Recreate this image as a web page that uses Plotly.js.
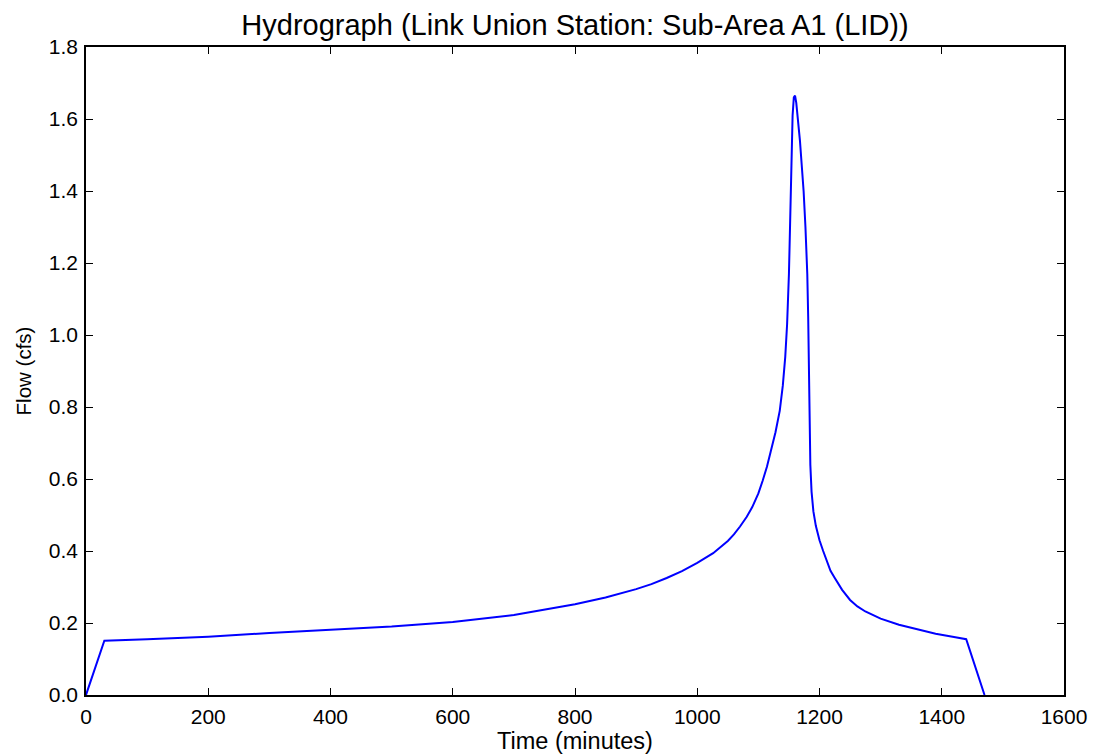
<!DOCTYPE html>
<html>
<head>
<meta charset="utf-8">
<script src="https://cdn.plot.ly/plotly-3.0.1.min.js"></script>
<style>
html,body{margin:0;padding:0;background:#fff;}
#chart{width:1094px;height:756px;}
</style>
</head>
<body>
<div id="chart"></div>
<script>
const timeMinutes = [0, 30, 100, 200, 300, 400, 500, 600, 700, 800, 850, 900, 925, 950, 975, 1000, 1026, 1050, 1060, 1070, 1081, 1090, 1100, 1107, 1114, 1120, 1128, 1135, 1140, 1144, 1147, 1150, 1152, 1154, 1156, 1158, 1160, 1162, 1165, 1168, 1171, 1174, 1177, 1180, 1181.5, 1182.5, 1183.5, 1185, 1187, 1190, 1194, 1200, 1206, 1212, 1218, 1225, 1237, 1250, 1262, 1275, 1300, 1330, 1360, 1390, 1420, 1440, 1470];
const flowCfs = [0, 0.151, 0.155, 0.162, 0.172, 0.181, 0.190, 0.203, 0.222, 0.252, 0.271, 0.294, 0.308, 0.325, 0.344, 0.367, 0.394, 0.428, 0.446, 0.468, 0.495, 0.522, 0.560, 0.595, 0.634, 0.675, 0.730, 0.790, 0.860, 0.940, 1.030, 1.170, 1.330, 1.500, 1.610, 1.660, 1.665, 1.645, 1.600, 1.540, 1.470, 1.400, 1.300, 1.170, 1.050, 0.880, 0.730, 0.640, 0.565, 0.510, 0.470, 0.430, 0.400, 0.370, 0.345, 0.325, 0.292, 0.264, 0.246, 0.232, 0.212, 0.195, 0.182, 0.170, 0.161, 0.155, 0];
const xTicks = [0, 200, 400, 600, 800, 1000, 1200, 1400, 1600];
const yTicks = [0.0, 0.2, 0.4, 0.6, 0.8, 1.0, 1.2, 1.4, 1.6, 1.8];

const fontFam = 'Liberation Sans, Arial, sans-serif';

const trace = {
  x: timeMinutes,
  y: flowCfs,
  type: 'scatter',
  mode: 'lines',
  line: {color: '#0000ff', width: 2},
  hoverinfo: 'x+y'
};

const axisCommon = {
  showgrid: false,
  zeroline: false,
  showline: true,
  linecolor: '#000',
  linewidth: 1.5,
  mirror: 'ticks',
  ticks: 'inside',
  ticklen: 7,
  tickwidth: 1,
  tickcolor: '#000',
  tickfont: {family: fontFam, size: 21, color: '#000'}
};

const layout = {
  width: 1094,
  height: 756,
  margin: {l: 86, r: 30, t: 47, b: 61},
  paper_bgcolor: '#fff',
  plot_bgcolor: '#fff',
  showlegend: false,
  title: {
    text: 'Hydrograph (Link Union Station: Sub-Area A1 (LID))',
    font: {family: fontFam, size: 29, color: '#000'},
    x: 0.5, xanchor: 'center', xref: 'paper',
    y: 1 - 25 / 756, yref: 'container', yanchor: 'middle'
  },
  xaxis: Object.assign({}, axisCommon, {
    range: [0, 1600],
    tickvals: xTicks,
    ticktext: xTicks.map(String),
    ticklabelstandoff: 2,
    title: {text: 'Time (minutes)', font: {family: fontFam, size: 23.5, color: '#000'}, standoff: 1}
  }),
  yaxis: Object.assign({}, axisCommon, {
    range: [0, 1.8],
    tickvals: yTicks,
    ticktext: yTicks.map(v => v.toFixed(1)),
    ticklabelstandoff: 2,
    title: {text: 'Flow (cfs)', font: {family: fontFam, size: 20.5, color: '#000'}, standoff: 12}
  })
};

Plotly.newPlot('chart', [trace], layout, {displayModeBar: false});
</script>
</body>
</html>
